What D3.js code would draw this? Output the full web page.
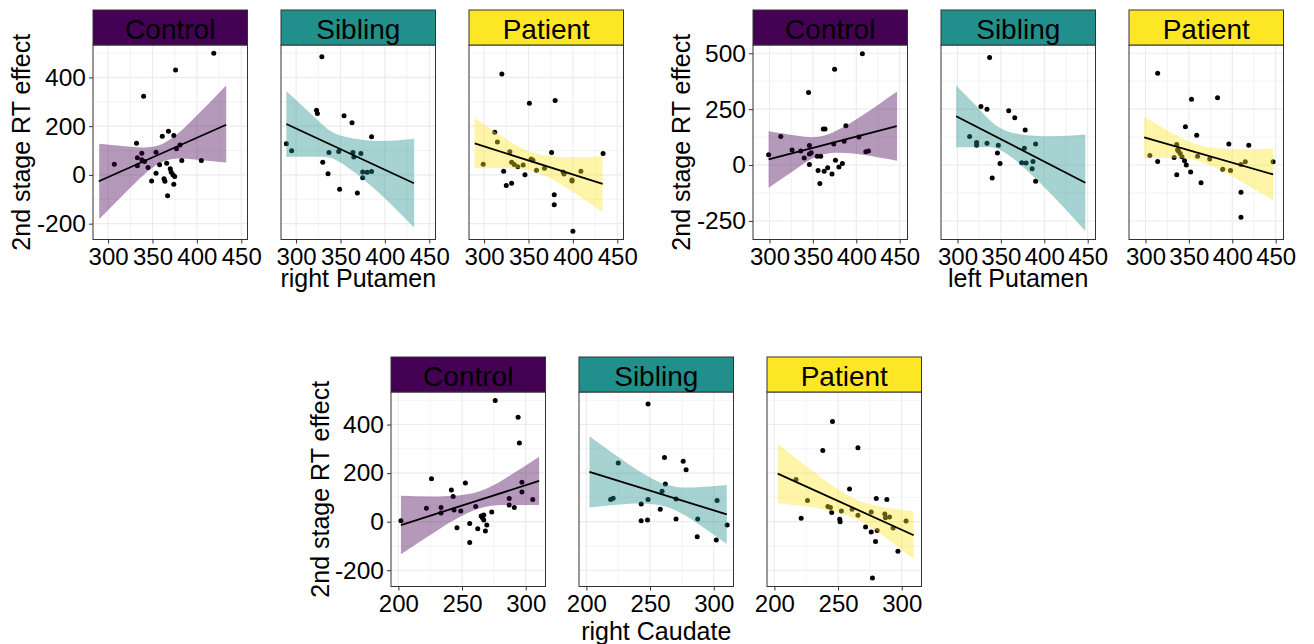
<!doctype html>
<html>
<meta charset="utf-8">
<style>
body { margin: 0; padding: 0; background: #fff; }
svg { font-family: 'Liberation Sans', Arial, sans-serif; }
</style>
<body>
<svg width="1314" height="644"></svg>
<script src="https://d3js.org/d3.v7.min.js"></script>
<script>

// facet groups
var groups = ["Control", "Sibling", "Patient"];
var groupFill = ["#440154", "#21908C", "#FDE725"];
var yTitle = "2nd stage RT effect";

// ---- right Putamen : [volume, RT effect]
var rPutControl = [[307,44],[332,130],[333,70],[333,38],[338,89],[338,62],[341,55],[340,323],[345,30],[349,-25],[354,7],[354,93],[358,42],[361,159],[363,-16],[364,-26],[366,48],[367,-86],[368,179],[370,25],[371,12],[373,1],[374,162],[375,-7],[374,-38],[376,430],[377,107],[381,123],[383,59],[405,59],[419,499]];
var rPutSibling = [[289,128],[295,99],[323,265],[324,252],[329,485],[330,52],[336,5],[337,92],[348,96],[349,-59],[354,243],[363,214],[364,92],[365,73],[369,-74],[373,88],[375,12],[375,-12],[380,11],[385,14],[385,157]];
var rPutPatient = [[299,44],[312,175],[315,135],[320,414],[322,15],[325,-43],[329,95],[331,-34],[331,52],[334,43],[338,33],[344,41],[346,1],[351,294],[353,65],[355,60],[359,19],[368,27],[376,92],[379,-81],[379,-122],[380,305],[389,12],[390,4],[399,-21],[399,-25],[400,-231],[409,15],[434,88]];
// fitted line ends and band [x, lower, upper]
var rPutControlFit = [[289.5,-26],[433,206]];
var rPutControlBand = [[290,-181,128],[325,-53,116],[361,53,127],[397,63,233],[433,51,367]];
var rPutSiblingFit = [[289,209],[432.7,-34]];
var rPutSiblingBand = [[289,73.5,344.5],[325,74,222],[349,52.5,162.5],[391,-66,139],[433,-217,148]];
var rPutPatientFit = [[289.4,129],[433.5,-37]];
var rPutPatientBand = [[289.4,27,232],[323,29,151],[357,13,89],[395,-58,73],[433.5,-152,77]];
var rPutXTicks = [300, 350, 400, 450];
var rPutYTicks = [-200, 0, 200, 400];

// ---- left Putamen
var lPutControl = [[299,46],[313,128],[326,67],[336,63],[340,31],[345,325],[346,88],[346,49],[346,2],[348,55],[355,39],[356,-24],[358,-83],[359,39],[362,161],[364,161],[363,-28],[367,-12],[372,-40],[374,94],[375,428],[376,22],[380,-9],[384,7],[386,107],[388,176],[403,125],[407,498],[411,60],[414,63]];
var lPutSibling = [[314,128],[322,101],[322,89],[327,262],[334,250],[334,97],[337,481],[340,-58],[346,54],[347,89],[349,7],[359,243],[366,212],[374,10],[377,75],[378,157],[379,9],[386,-16],[387,16],[390,94],[390,-72]];
var lPutPatient = [[305,43],[314,411],[314,16],[333,34],[336,92],[336,-43],[337,67],[338,63],[340,52],[342,37],[345,19],[346,171],[347,0],[352,-31],[353,294],[359,133],[360,39],[364,-79],[374,27],[383,301],[389,-19],[396,94],[398,-24],[410,3],[410,-122],[410,-233],[415,15],[419,89],[447,15]];
var lPutControlFit = [[299,25],[446.6,174]];
var lPutControlBand = [[299,-101,151],[332,-14,131],[364,49,133],[405,47,217],[447,19,329]];
var lPutSiblingFit = [[298.5,218],[447.3,-79]];
var lPutSiblingBand = [[298.5,80,356],[327,80,242],[355,55,155],[401,-102.5,129],[447.3,-294.5,136.5]];
var lPutPatientFit = [[298.5,124],[447,-42]];
var lPutPatientBand = [[298.5,31.5,216.5],[331,32,143],[363,16,88],[405,-61,71],[447,-158,74]];
var lPutXTicks = [300, 350, 400, 450];
var lPutYTicks = [-250, 0, 250, 500];

// ---- right Caudate
var rCauControl = [[202,4],[222,55],[226,177],[233.5,58],[233.5,36],[241.6,130],[243,104],[243.7,48],[246,-25],[249,44],[252.6,159],[256,-8],[256,-86],[260.7,62],[262.3,-29],[265,23],[266,16],[267,27],[267,7],[268.3,-38],[269.4,-14],[273.3,40],[276,499],[287,95],[287,69],[291,58],[294,430],[295,324],[297,162],[297,122],[305.5,91]];
var rCauSibling = [[219,91],[221,96],[225,242],[243,73],[243,4],[248,7],[248.4,485],[248.4,91],[258,51],[259.4,125],[261.3,264],[262,155],[270.4,93],[270.4,11],[276,249],[278.3,214],[287,-62],[287.4,11],[302,-75],[302.6,87],[310.5,-14]];
var rCauPatient = [[217,174],[221,14],[226,87],[238,293],[242,62],[244,58],[245,38],[245.6,412],[251.3,10],[251.6,0],[252.6,44],[259,135],[261,51],[265.6,26],[265.6,304],[271.6,-22],[276,40],[276,-43],[277,-232],[279.4,-82],[280,95],[280.7,-36],[286.7,32],[287.2,16],[288.3,91],[290.4,19],[293.2,-26],[297,-122],[303.4,3]];
var rCauControlFit = [[202,-14],[310.5,168]];
var rCauControlBand = [[202,-134.5,106.5],[232,-31,104],[262,52,122],[287,69,188],[310.5,68.5,267.5]];
var rCauSiblingFit = [[202.4,205],[310.2,30]];
var rCauSiblingBand = [[202.4,58,352],[232,73,241],[262,62,154],[287,-6.5,142],[310.2,-91.5,151.5]];
var rCauPatientFit = [[202.6,198],[309.4,-56]];
var rCauPatientBand = [[202.6,75.5,320.5],[233,56,196],[263,14,94],[287,-64,58],[309.4,-153.5,41.5]];
var rCauXTicks = [200, 250, 300];
var rCauYTicks = [-200, 0, 200, 400];

// layout of the three facet rows (pixels)
var blocks = [
  { title: "right Putamen", lefts: [93, 281, 469], top: 45, xDomain: [283, 457], yDomain: [-265, 533],
    xTicks: rPutXTicks, yTicks: rPutYTicks, yTitleX: 30, xTitleY: 287,
    pts: [rPutControl, rPutSibling, rPutPatient], fits: [rPutControlFit, rPutSiblingFit, rPutPatientFit],
    bands: [rPutControlBand, rPutSiblingBand, rPutPatientBand] },
  { title: "left Putamen", lefts: [753, 941, 1129], top: 45, xDomain: [281, 459], yDomain: [-333, 537],
    xTicks: lPutXTicks, yTicks: lPutYTicks, yTitleX: 690, xTitleY: 287,
    pts: [lPutControl, lPutSibling, lPutPatient], fits: [lPutControlFit, lPutSiblingFit, lPutPatientFit],
    bands: [lPutControlBand, lPutSiblingBand, lPutPatientBand] },
  { title: "right Caudate", lefts: [391, 579, 767], top: 392, xDomain: [194.2, 315.5], yDomain: [-267, 534],
    xTicks: rCauXTicks, yTicks: rCauYTicks, yTitleX: 329, xTitleY: 640,
    pts: [rCauControl, rCauSibling, rCauPatient], fits: [rCauControlFit, rCauSiblingFit, rCauPatientFit],
    bands: [rCauControlBand, rCauSiblingBand, rCauPatientBand] }
];
var pw = 154.5, ph = 194.5, stripH = 35;
var fmt = function(d) { return String(d); }; // plain hyphen minus like R

var svg = d3.select("svg");

function minors(ticks, dom) {
  var step = ticks[1] - ticks[0];
  return d3.range(ticks[0] - step / 2, dom[1], step).filter(function(v) { return v > dom[0] && v < dom[1]; });
}

blocks.forEach(function(b, bi) {
  var y = d3.scaleLinear().domain(b.yDomain).range([b.top + ph, b.top]);

  groups.forEach(function(gName, gi) {
    var left = b.lefts[gi];
    var x = d3.scaleLinear().domain(b.xDomain).range([left, left + pw]);
    var clipId = "clip" + bi + "_" + gi;
    svg.append("clipPath").attr("id", clipId)
      .append("rect").attr("x", left).attr("y", b.top).attr("width", pw).attr("height", ph);

    var g = svg.append("g");
    var pg = g.append("g").attr("clip-path", "url(#" + clipId + ")");

    // grid
    pg.selectAll(".gmy").data(minors(b.yTicks, b.yDomain)).enter().append("line")
      .attr("x1", left).attr("x2", left + pw).attr("y1", y).attr("y2", y)
      .attr("stroke", "#EBEBEB").attr("stroke-width", 0.6);
    pg.selectAll(".gmx").data(minors(b.xTicks, b.xDomain)).enter().append("line")
      .attr("y1", b.top).attr("y2", b.top + ph).attr("x1", x).attr("x2", x)
      .attr("stroke", "#EBEBEB").attr("stroke-width", 0.6);
    pg.selectAll(".gy").data(b.yTicks).enter().append("line")
      .attr("x1", left).attr("x2", left + pw).attr("y1", y).attr("y2", y)
      .attr("stroke", "#EBEBEB").attr("stroke-width", 1.1);
    pg.selectAll(".gx").data(b.xTicks).enter().append("line")
      .attr("y1", b.top).attr("y2", b.top + ph).attr("x1", x).attr("x2", x)
      .attr("stroke", "#EBEBEB").attr("stroke-width", 1.1);

    // points
    pg.selectAll("circle").data(b.pts[gi]).enter().append("circle")
      .attr("cx", function(d) { return x(d[0]); })
      .attr("cy", function(d) { return y(d[1]); })
      .attr("r", 2.5).attr("fill", "#000");

    // confidence band + fit
    var area = d3.area().curve(d3.curveNatural)
      .x(function(d) { return x(d[0]); })
      .y0(function(d) { return y(d[1]); })
      .y1(function(d) { return y(d[2]); });
    pg.append("path").datum(b.bands[gi]).attr("d", area)
      .attr("fill", groupFill[gi]).attr("fill-opacity", 0.4);
    var line = d3.line().x(function(d) { return x(d[0]); }).y(function(d) { return y(d[1]); });
    pg.append("path").datum(b.fits[gi]).attr("d", line)
      .attr("fill", "none").attr("stroke", "#000").attr("stroke-width", 1.8);

    // border
    g.append("rect").attr("x", left).attr("y", b.top).attr("width", pw).attr("height", ph)
      .attr("fill", "none").attr("stroke", "#333").attr("stroke-width", 1);

    // strip
    g.append("rect").attr("x", left).attr("y", b.top - stripH).attr("width", pw).attr("height", stripH)
      .attr("fill", groupFill[gi]).attr("stroke", "#333").attr("stroke-width", 1);
    g.append("text").attr("x", left + pw / 2).attr("y", b.top - 6)
      .attr("text-anchor", "middle").attr("font-size", 28).attr("fill", "#000").text(gName);

    // x axis
    var xa = g.append("g").attr("transform", "translate(0," + (b.top + ph) + ")")
      .call(d3.axisBottom(x).tickValues(b.xTicks).tickFormat(fmt).tickSize(4).tickPadding(4));
    xa.select(".domain").remove();
    xa.selectAll("line").attr("stroke", "#333");
    xa.selectAll("text").attr("font-size", 24).attr("fill", "#000").style("font-family", "'Liberation Sans', Arial, sans-serif");

    if (gi === 0) {
      var ya = g.append("g").attr("transform", "translate(" + left + ",0)")
        .call(d3.axisLeft(y).tickValues(b.yTicks).tickFormat(fmt).tickSize(4).tickPadding(3));
      ya.select(".domain").remove();
      ya.selectAll("line").attr("stroke", "#333");
      ya.selectAll("text").attr("font-size", 24.5).attr("fill", "#000").style("font-family", "'Liberation Sans', Arial, sans-serif");
    }
  });

  // axis titles
  svg.append("text")
    .attr("transform", "translate(" + b.yTitleX + "," + (b.top + ph / 2) + ") rotate(-90)")
    .attr("text-anchor", "middle").attr("font-size", 25).attr("fill", "#000").text(yTitle);
  svg.append("text")
    .attr("x", (b.lefts[0] + b.lefts[2] + pw) / 2).attr("y", b.xTitleY)
    .attr("text-anchor", "middle").attr("font-size", 25).attr("fill", "#000").text(b.title);
});

</script>
</body>
</html>
